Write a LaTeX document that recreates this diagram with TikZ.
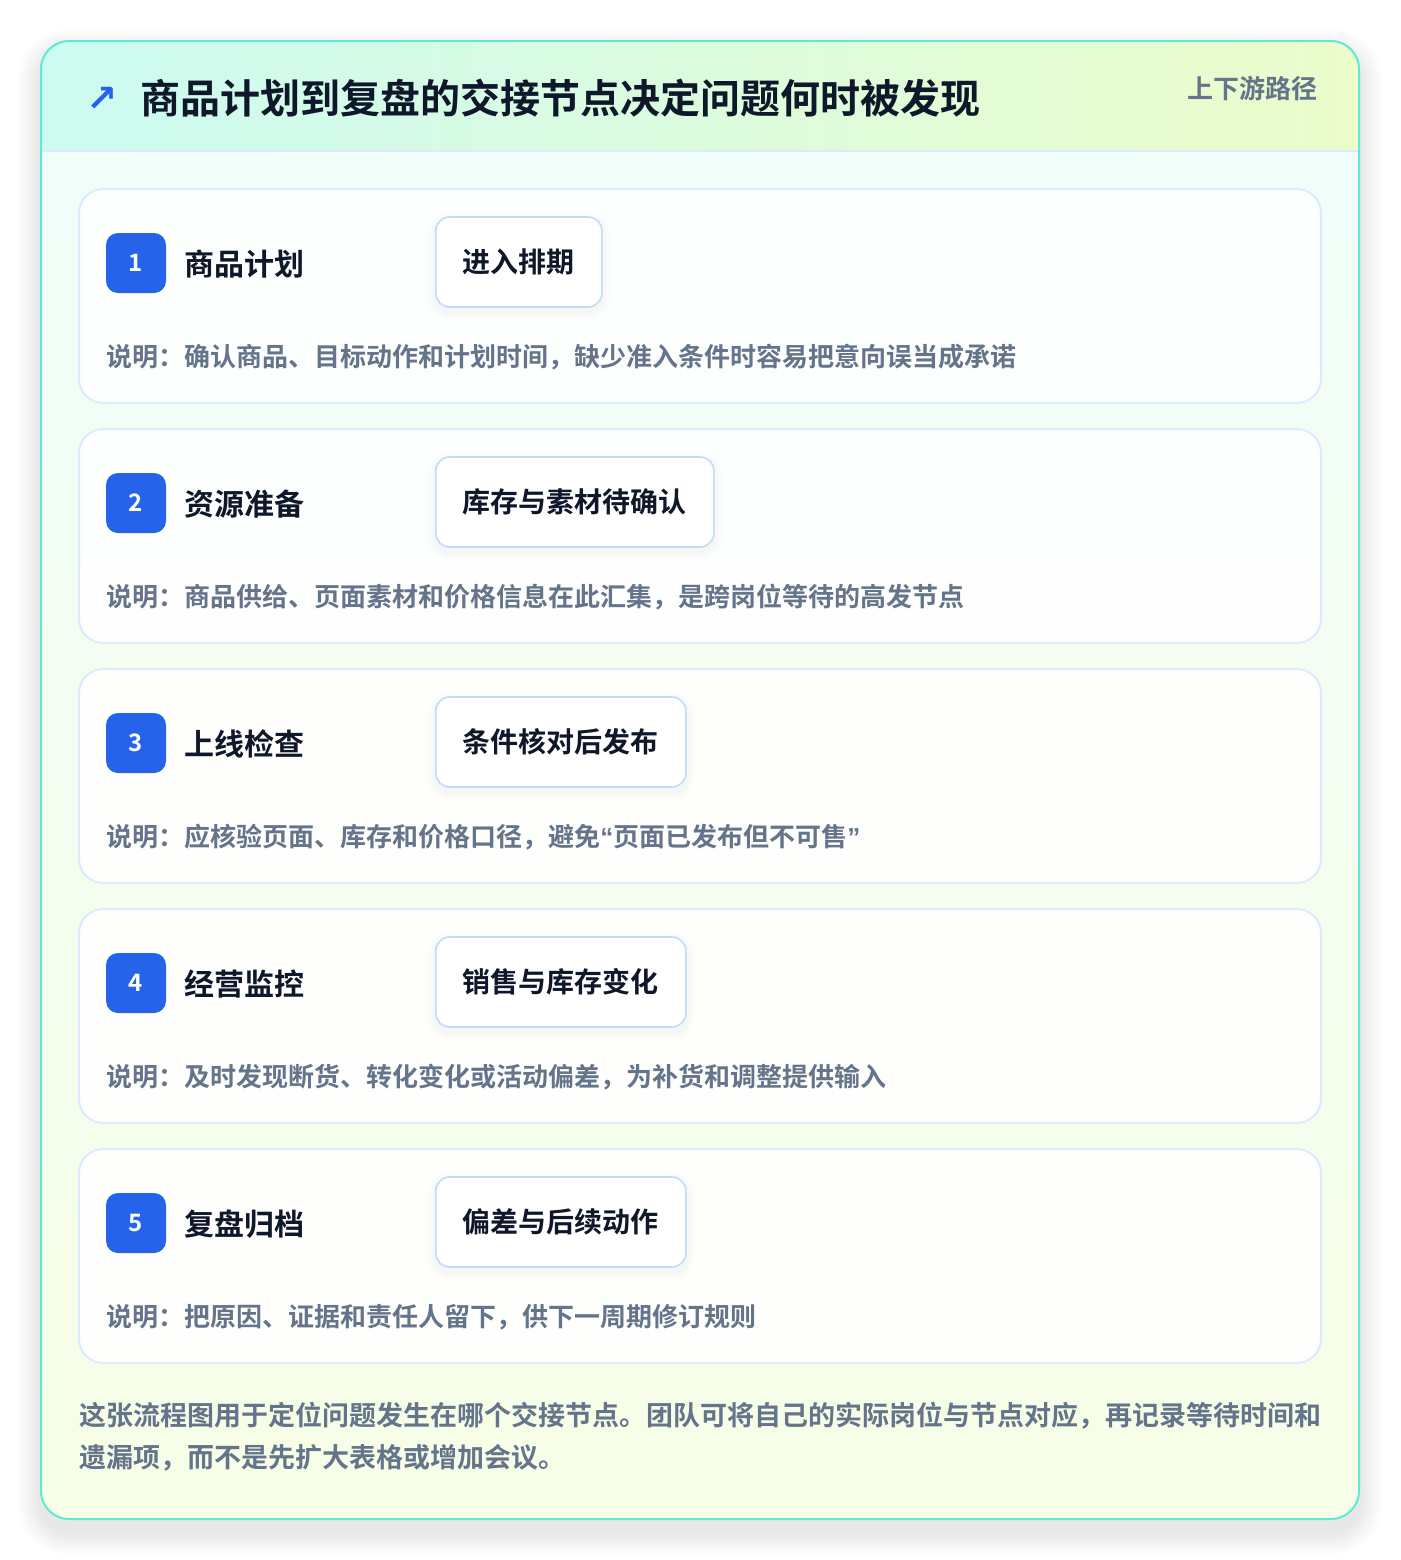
\documentclass[tikz,border=0pt]{standalone}
\usepackage{fontspec}
\setmainfont{Noto Sans CJK SC}[BoldFont={* Bold}]
\newfontfamily\symfont{DejaVu Sans}
\newfontfamily\latinq{Liberation Sans}
\definecolor{tealb}{HTML}{5EEAD4}
\definecolor{mintA}{HTML}{CCFBF1}
\definecolor{limeA}{HTML}{ECFCCB}
\definecolor{bodyTop}{HTML}{F0FDFA}
\definecolor{bodyBot}{HTML}{F7FEE7}
\definecolor{cardline}{HTML}{DBEAFE}
\definecolor{pillline}{HTML}{BFDBFE}
\definecolor{badgeblue}{HTML}{2563EB}
\definecolor{ink}{HTML}{0F172A}
\definecolor{slate}{HTML}{64748B}
\pgfdeclarelayer{back}
\pgfdeclarelayer{cards}
\pgfdeclarelayer{pshadow}
\pgfsetlayers{back,cards,pshadow,main}
\tikzset{
  cardbox/.style={fill=white, fill opacity=0.92, draw=cardline, line width=1.5pt, rounded corners=18pt},
  badge/.style={fill=badgeblue, rounded corners=9pt, minimum width=45pt, minimum height=45pt, inner sep=0pt, text=white, font=\bfseries\fontsize{18pt}{20pt}\selectfont},
  steptitle/.style={anchor=west, inner sep=0pt, text=ink, font=\bfseries\fontsize{22.5pt}{26pt}\selectfont},
  pill/.style={anchor=west, fill=white, draw=pillline, line width=1.2pt, rounded corners=10.5pt, minimum height=67.5pt, inner xsep=20.3pt, inner ysep=0pt, text=ink, font=\bfseries\fontsize{21pt}{24pt}\selectfont},
  desc/.style={anchor=west, inner sep=0pt, text=slate, font=\bfseries\fontsize{19.5pt}{24pt}\selectfont},
}
\begin{document}
\begin{tikzpicture}[x=0.75pt,y=-0.75pt]
\useasboundingbox (0,0) rectangle (1400,1560);
\begin{pgfonlayer}{back}
\fill[white] (0,0) rectangle (1400,1560);
% shadow
\foreach \i in {1,...,24}{
  \fill[black, opacity=0.0045, rounded corners=21pt+0.75*\i pt] (41-\i,41-\i+12) rectangle (1359+\i,1519+\i+12);
}
% outer card
\begin{scope}
  \clip[rounded corners=21pt] (41,41) rectangle (1359,1519);
  \fill[top color=bodyTop, bottom color=bodyBot] (41,41) rectangle (1359,1519);
  \fill[left color=mintA, right color=limeA] (41,41) rectangle (1359,151);
  \draw[cardline, line width=1.2pt] (41,151) -- (1359,151);
\end{scope}
\draw[tealb, line width=1.5pt, rounded corners=21pt] (41,41) rectangle (1359,1519);
\end{pgfonlayer}
% header
\node[anchor=center, inner sep=0pt, text=badgeblue, font=\symfont\bfseries\fontsize{28pt}{30pt}\selectfont] (arrow) at (102,99) {↗};
\node[anchor=west, inner sep=0pt, text=ink, font=\bfseries\fontsize{30pt}{36pt}\selectfont] (title) at (140,98) {商品计划到复盘的交接节点决定问题何时被发现};
\node[anchor=east, inner sep=0pt, text=slate, font=\bfseries\fontsize{19.5pt}{22pt}\selectfont] (tag) at (1318,89) {上下游路径};
% cards
\foreach \n/\t/\p/\d [count=\k from 0] in {
 1/商品计划/进入排期/{说明：确认商品、目标动作和计划时间，缺少准入条件时容易把意向误当成承诺},
 2/资源准备/库存与素材待确认/{说明：商品供给、页面素材和价格信息在此汇集，是跨岗位等待的高发节点},
 3/上线检查/条件核对后发布/{说明：应核验页面、库存和价格口径，避免{\latinq “}页面已发布但不可售{\latinq ”}},
 4/经营监控/销售与库存变化/{说明：及时发现断货、转化变化或活动偏差，为补货和调整提供输入},
 5/复盘归档/偏差与后续动作/{说明：把原因、证据和责任人留下，供下一周期修订规则}}{
  \pgfmathsetmacro{\yy}{189+240*\k}
  \begin{pgfonlayer}{cards}
  \draw[cardbox] (79,\yy) rectangle (1321,\yy+214);
  \end{pgfonlayer}
  \node[badge] (badge\n) at (136,\yy+74) {\n};
  \node[steptitle] (title\n) at (184,\yy+75) {\t};
  \node[pill] (pill\n) at (435,\yy+73) {\p};
  \begin{pgfonlayer}{pshadow}
  \foreach \s in {1,...,8}{
    \fill[black, opacity=0.004, rounded corners=10.5pt+0.75*\s pt] ([xshift=-0.75*\s pt, yshift=-0.75*\s pt-3pt]pill\n.south west) rectangle ([xshift=0.75*\s pt, yshift=0.75*\s pt-3pt]pill\n.north east);
  }
  \end{pgfonlayer}
  \node[desc] (desc\n) at (106,\yy+168) {\d};
}
% footer
\node[anchor=north west, inner sep=0pt, align=left, text=slate, font=\bfseries\fontsize{20.25pt}{31.5pt}\selectfont] (foot) at (79,1402) {这张流程图用于定位问题发生在哪个交接节点。团队可将自己的实际岗位与节点对应，再记录等待时间和\\遗漏项，而不是先扩大表格或增加会议。};
\end{tikzpicture}
\end{document}
